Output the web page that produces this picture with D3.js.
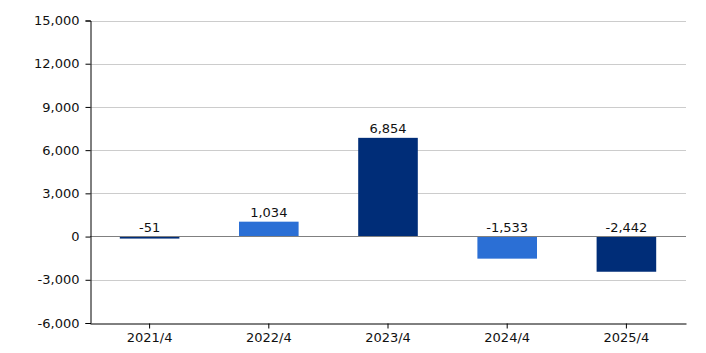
<!DOCTYPE html>
<html><head><meta charset="utf-8">
<script src="https://cdn.jsdelivr.net/npm/d3@7"></script>
<style>body{margin:0;background:#fff;} text{font-family:"DejaVu Sans",Verdana,sans-serif;}</style>
</head><body>
<svg id="c" width="706" height="353"></svg>
<script>
const categories = ["2021/4","2022/4","2023/4","2024/4","2025/4"];
const values = [-51, 1034, 6854, -1533, -2442];
const labels = ["-51","1,034","6,854","-1,533","-2,442"];
const colors = ["#002d78","#2b6fd5","#002d78","#2b6fd5","#002d78"];
const yTicks = [-6000,-3000,0,3000,6000,9000,12000,15000];

const m = {l:90, r:20, t:20, b:30};
const svg = d3.select("#c");
const x = d3.scaleBand().domain(categories).range([m.l, 686]).paddingInner(0.5).paddingOuter(0.25);
const y = d3.scaleLinear().domain([-6000,15000]).range([323, 20.5]);
const fmt = d => d3.format(",")(Math.abs(d)).replace(/^/, d < 0 ? "-" : "");

// gridlines
svg.append("g").selectAll("line").data(yTicks.filter(d=>d!==0 && d!==-6000)).join("line")
  .attr("x1", m.l).attr("x2", 686).attr("y1", d=>Math.round(y(d))+0.5).attr("y2", d=>Math.round(y(d))+0.5)
  .attr("stroke","#cccccc").attr("stroke-width",1);

// bars
svg.append("g").selectAll("rect").data(values).join("rect")
  .attr("x",(d,i)=>x(categories[i]))
  .attr("width", x.bandwidth())
  .attr("y", d=>Math.min(y(d), y(0)))
  .attr("height", d=>Math.max(2, Math.abs(y(d)-y(0))))
  .attr("fill",(d,i)=>colors[i]);

// zero line
const z = Math.floor(y(0))+0.5;
svg.append("line").attr("x1",m.l).attr("x2",686).attr("y1",z).attr("y2",z)
  .attr("stroke","#808080").attr("stroke-width",1.2);

// value labels
svg.append("g").selectAll("text").data(values).join("text")
  .attr("x",(d,i)=>x(categories[i])+x.bandwidth()/2)
  .attr("y", d=>Math.min(y(d), y(0)) - 4.5)
  .attr("text-anchor","middle").attr("font-size",13).attr("fill","#111")
  .text((d,i)=>labels[i]);

// y axis
const ya = svg.append("g").attr("transform",`translate(${m.l+0.5},0)`)
  .call(d3.axisLeft(y).tickValues(yTicks).tickSize(5).tickPadding(6).tickFormat(fmt));
ya.select(".domain").attr("stroke","#000");
ya.selectAll("text").attr("font-size",13).attr("fill","#111").style("font-family",'"DejaVu Sans",Verdana,sans-serif');

// x axis
const xa = svg.append("g").attr("transform",`translate(0,${323.5})`)
  .call(d3.axisBottom(x).tickSize(5).tickPadding(4).tickSizeOuter(0));
xa.select(".domain").attr("stroke","#000");
xa.selectAll("text").attr("font-size",13).attr("fill","#111").style("font-family",'"DejaVu Sans",Verdana,sans-serif');
</script>
</body></html>
